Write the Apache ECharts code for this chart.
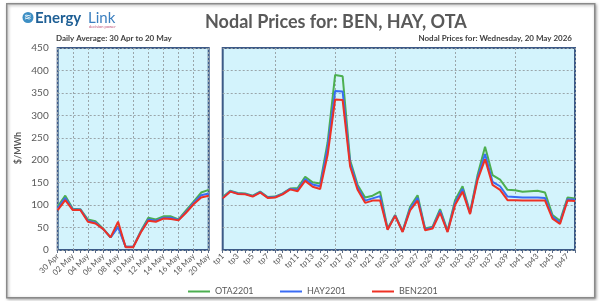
<!DOCTYPE html>
<html>
<head>
<meta charset="utf-8">
<script src="https://cdn.jsdelivr.net/npm/echarts@6/dist/echarts.min.js"></script>
<style>
html,body{margin:0;padding:0;background:#fff;}
#chart{width:600px;height:301px;}
</style>
</head>
<body>
<div id="chart"></div>
<script>
// daily averages, 30 Apr .. 20 May
var dayLabels = ['30 Apr','01 May','02 May','03 May','04 May','05 May','06 May','07 May','08 May','09 May','10 May',
	'11 May','12 May','13 May','14 May','15 May','16 May','17 May','18 May','19 May','20 May'];
var otaDaily = [97,121,92,91,68,64,48,28,53,7,7,42,72,68,75,75,68,88,108,128,134];
var hayDaily = [93,116,90,90,65,61,47,28,51,7,7,40,68,65,72,72,67,85,105,122,126];
var benDaily = [89,111,89,89,63,59,47,28,63,6,6,39,65,63,70,69,66,83,102,117,121];

// trading periods for 20 May
var tpLabels = ['tp1','tp2','tp3','tp4','tp5','tp6','tp7','tp8','tp9','tp10','tp11','tp12','tp13','tp14','tp15','tp16',
	'tp17','tp18','tp19','tp20','tp21','tp22','tp23','tp24','tp25','tp26','tp27','tp28','tp29','tp30','tp31','tp32',
	'tp33','tp34','tp35','tp36','tp37','tp38','tp39','tp40','tp41','tp42','tp43','tp44','tp45','tp46','tp47','tp48'];
var otaTp = [118,132,127,126,121,130,118,119,126,137,138,163,151,148,240,390,387,200,145,117,121,130,48,78,
	42,96,122,48,52,91,43,111,142,84,167,230,167,157,134,133,130,131,132,128,78,65,117,115];
var hayTp = [116,131,126,125,120,129,117,118,125,136,134,158,146,142,228,354,353,193,140,110,115,120,46,77,
	41,92,116,46,50,87,41,105,136,82,161,214,152,142,119,118,117,117,117,116,74,61,113,112];
var benTp = [115,130,125,124,119,128,116,117,124,135,131,154,141,136,212,335,334,186,134,105,110,110,45,76,
	40,88,110,44,48,83,40,100,130,80,156,202,145,134,111,111,110,110,110,110,70,58,110,109];

var seriesNames = ['OTA2201','HAY2201','BEN2201'];
var seriesColors = ['#4caf50','#3a6cf4','#ee3124'];

var grey = '#595959';
var gridLineColor = '#9aa5aa';
var fontFam = 'Lato, "Open Sans", sans-serif';

function makeX(idx, data, splitInt){
	return {
		type:'category', gridIndex:idx, data:data, boundaryGap:false,
		axisLine:{show:false},
		axisTick:{show:true, interval:0, length:3, lineStyle:{color:'#5a6b85'}},
		axisLabel:{interval:1, rotate:45, fontSize:8, color:grey, margin:5, fontFamily:fontFam},
		splitLine:{show:true, interval:splitInt, lineStyle:{color:gridLineColor, type:[2,2], width:1}}
	};
}
function makeY(idx, showLabels){
	return {
		type:'value', gridIndex:idx, min:0, max:450, interval:50,
		axisLine:{show:false}, axisTick:{show:false},
		axisLabel:{show:showLabels, fontSize:10, color:grey, margin:9, fontFamily:fontFam},
		splitLine:{show:true, lineStyle:{color:gridLineColor, type:[2,2], width:1}}
	};
}

var gridStyle = {show:true, backgroundColor:'#d3f3fc', borderColor:'#3d5a87', borderWidth:2};

var allData = [[otaDaily,hayDaily,benDaily],[otaTp,hayTp,benTp]];
var series = [];
for (var g=0; g<2; g++){
	for (var s=0; s<3; s++){
		series.push({
			name:seriesNames[s], type:'line', xAxisIndex:g, yAxisIndex:g,
			data:allData[g][s], symbol:'none', showSymbol:false,
			lineStyle:{width:2, color:seriesColors[s]}, itemStyle:{color:seriesColors[s]},
			silent:true
		});
	}
}

// one legend per item so each sits where the original has it
var legendLefts = [183, 275, 367];
var legends = [];
for (var i=0; i<3; i++){
	legends.push({
		data:[seriesNames[i]], left:legendLefts[i], top:282, icon:'rect', itemWidth:22, itemHeight:2, itemGap:4,
		textStyle:{fontSize:9, color:grey, fontFamily:fontFam}
	});
}

var option = {
	animation:false,
	backgroundColor:'#fff',
	title:[
		{text:'Nodal Prices for: BEN, HAY, OTA', left:200, top:8,
			textStyle:{fontSize:18, fontWeight:'bold', color:grey, fontFamily:fontFam}},
		{text:'Daily Average: 30 Apr to 20 May', left:56, top:34, padding:0,
			textStyle:{fontSize:8, fontWeight:'bold', color:'#404040', fontFamily:fontFam}},
		{text:'Nodal Prices for: Wednesday, 20 May 2026', right:28, top:34, padding:0,
			textStyle:{fontSize:8, fontWeight:'bold', color:'#404040', fontFamily:fontFam}}
	],
	legend:legends,
	grid:[
		Object.assign({left:57.7, right:600-208.7, top:48, bottom:51}, gridStyle),
		Object.assign({left:222.7, right:25, top:48, bottom:51}, gridStyle)
	],
	xAxis:[makeX(0, dayLabels, 1), makeX(1, tpLabels, function(i){ return i%8===7; })],
	yAxis:[makeY(0, true), makeY(1, false)],
	series:series,
	graphic:[
		// outer frame
		{type:'rect', left:6, top:3, shape:{width:588, height:294}, z:-1,
			style:{fill:'#fff', stroke:'#8a8a8a', lineWidth:1.5, shadowBlur:3, shadowColor:'rgba(0,0,0,0.35)', shadowOffsetX:1, shadowOffsetY:1}},
		// y axis name
		{type:'text', x:18, y:148, rotation:Math.PI/2, style:{text:'$/MWh', fontSize:9, fontWeight:'bold', fill:grey,
			fontFamily:fontFam, align:'center', verticalAlign:'middle'}},
		// logo
		{type:'circle', shape:{cx:28, cy:17.5, r:5.5}, style:{fill:'#3d8fc4'}},
		{type:'text', x:28, y:17.5, style:{text:'≋', fontSize:9, fill:'#fff', align:'center', verticalAlign:'middle'}},
		{type:'text', x:35, y:18, style:{text:'Energy', fontSize:15, fontWeight:'bold', fill:'#1e5f95',
			fontFamily:fontFam, verticalAlign:'middle'}},
		{type:'text', x:88, y:18, style:{text:'Link', fontSize:15, fill:'#3b7fbf',
			fontFamily:fontFam, verticalAlign:'middle'}},
		{type:'text', x:89, y:27, style:{text:'decision power', fontSize:4, fill:'#c0557a',
			fontFamily:fontFam, verticalAlign:'middle'}}
	]
};

var myChart = echarts.init(document.getElementById('chart'));
myChart.setOption(option);
</script>
</body>
</html>
